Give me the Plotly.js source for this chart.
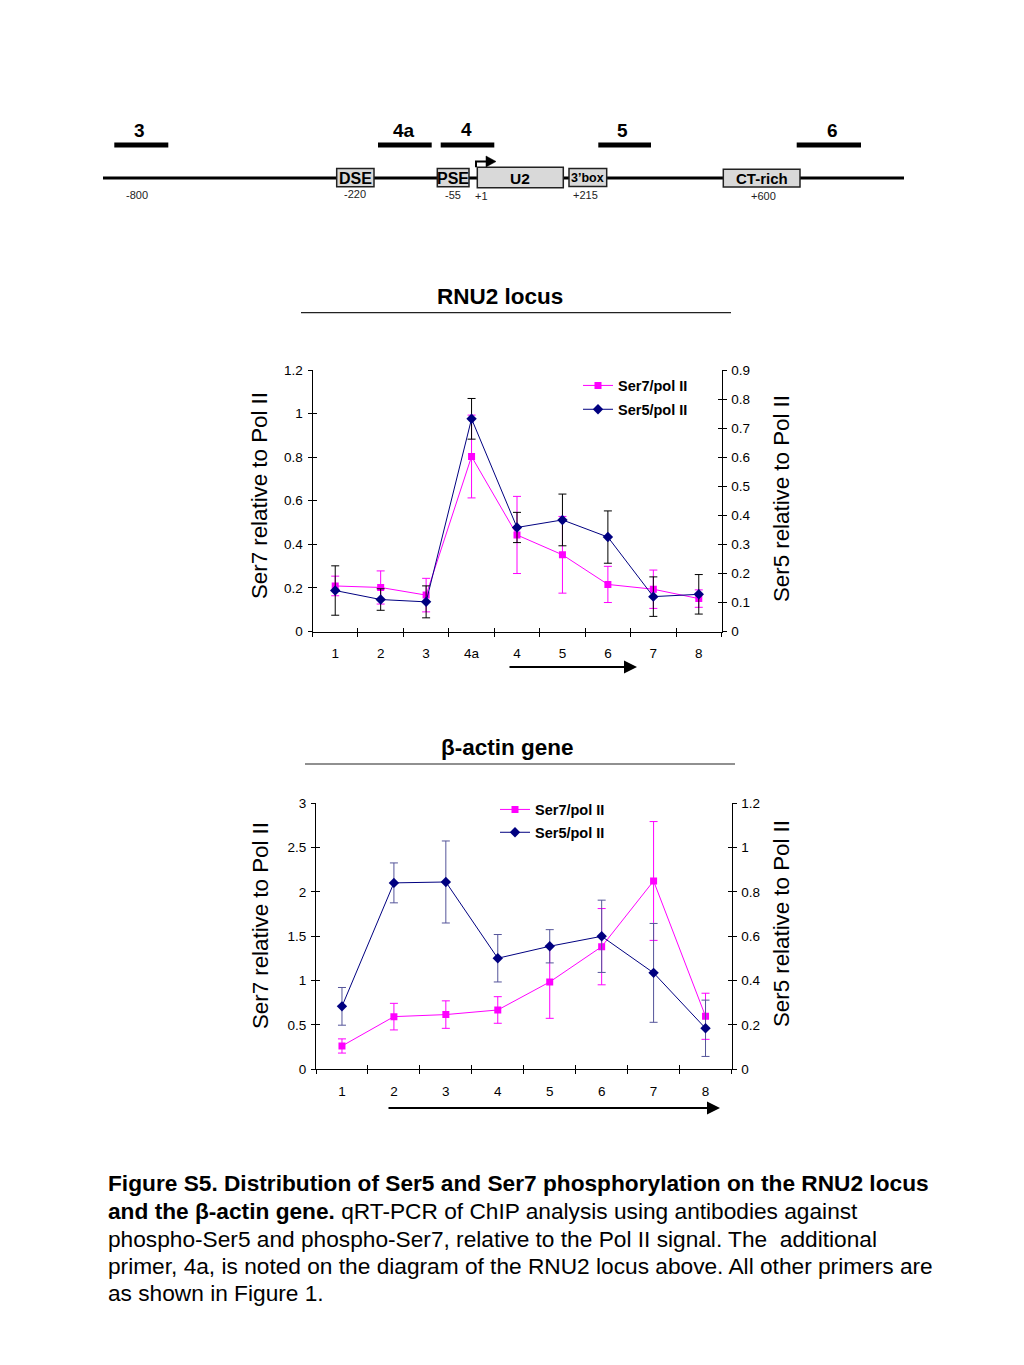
<!DOCTYPE html>
<html>
<head>
<meta charset="utf-8">
<script src="https://cdn.plot.ly/plotly-3.0.1.min.js"></script>
<style>html,body{margin:0;padding:0;background:#fff;}#chart{width:1024px;height:1365px;}</style>
</head>
<body>
<div id="chart"></div>
<script>
// ---------- DATA ----------
const rnuPrimers = ['1','2','3','4a','4','5','6','7','8'];
const rnuSer7 = [0.209,0.202,0.167,0.803,0.443,0.352,0.216,0.194,0.151];
const rnuSer7Err = [0.045,0.076,0.077,0.19,0.177,0.176,0.083,0.088,0.04];
const rnuSer5 = [0.141,0.110,0.102,0.732,0.358,0.384,0.325,0.120,0.128];
const rnuSer5Err = [0.085,0.037,0.055,0.07,0.052,0.089,0.09,0.068,0.068];

const actinPrimers = ['1','2','3','4','5','6','7','8'];
const actinSer7 = [0.263,0.594,0.617,0.669,0.985,1.383,2.124,0.598];
const actinSer7Err = [0.08,0.15,0.155,0.15,0.41,0.43,0.67,0.26];
const actinSer5 = [0.284,0.841,0.845,0.501,0.555,0.600,0.435,0.185];
const actinSer5Err = [0.085,0.09,0.185,0.107,0.075,0.163,0.223,0.127];

const seriesNames = ['Ser7/pol II','Ser5/pol II'];
const leftTitle = 'Ser7 relative to Pol II';
const rightTitle = 'Ser5 relative to Pol II';

// Gene diagram labels
const primerLabels = ['3','4a','4','5','6'];
const elementLabels = ['DSE','PSE','U2','3\u2019box','CT-rich'];
const positionLabels = ['-800','-220','-55','+1','+215','+600'];

const captionLines = [
  '<b>Figure S5. Distribution of Ser5 and Ser7 phosphorylation on the RNU2 locus</b>',
  '<b>and the \u03b2-actin gene.</b> qRT-PCR of ChIP analysis using antibodies against',
  'phospho-Ser5 and phospho-Ser7, relative to the Pol II signal. The  additional',
  'primer, 4a, is noted on the diagram of the RNU2 locus above. All other primers are',
  'as shown in Figure 1.'
];

// ---------- LAYOUT HELPERS ----------
const W = 1024, H = 1365;
const FONT = 'Liberation Sans, Arial, Helvetica, sans-serif';
const px = v => v / W;
const py = v => 1 - v / H;
const MAG = '#ff00ff', NAVY = '#000080';

const c1 = {x0:312.5, x1:721.5, yTop:370, yBot:631.5};
const c2 = {x0:316, x1:731.5, yTop:803.3, yBot:1069.3};
const TICKFONT = {family:FONT,size:13.5,color:'#000'};

function mainX(c, cats, anchor){
  return {domain:[px(c.x0),px(c.x1)], anchor:anchor, type:'category',
    categoryorder:'array', categoryarray:cats, range:[-0.5,cats.length-0.5],
    tickson:'boundaries', ticks:'outside', ticklen:4, tickcolor:'#000', tickwidth:1,
    showline:true, linecolor:'#000', linewidth:1, showgrid:false, zeroline:false,
    tickfont:TICKFONT, ticklabelstandoff:9, fixedrange:true};
}
function mainY(c, anchor, rng, dt, side, overlay){
  const a = {anchor:anchor, range:rng, dtick:dt, tick0:0, ticks:'outside', ticklen:4,
    tickcolor:'#000', tickwidth:1, showline:true, linecolor:'#000', linewidth:1,
    showgrid:false, zeroline:false, side:side, ticklabelstandoff:2,
    tickfont:TICKFONT, fixedrange:true};
  if (overlay) a.overlaying = overlay; else a.domain = [py(c.yBot), py(c.yTop)];
  return a;
}
function crossX(over, anchor, n){
  return {overlaying:over, anchor:anchor, range:[-0.5,n-0.5], tick0:-0.5, dtick:1,
    ticks:'inside', ticklen:4, tickcolor:'#000', showticklabels:false, showline:false,
    showgrid:false, zeroline:false, fixedrange:true};
}
function crossY(over, anchor, rng, dt, side){
  return {overlaying:over, anchor:anchor, range:rng, tick0:0, dtick:dt, side:side,
    ticks:'inside', ticklen:4, tickcolor:'#000', showticklabels:false, showline:false,
    showgrid:false, zeroline:false, fixedrange:true};
}

// ---------- TRACES ----------
function series(x, y, err, name, color, errColor, symbol, xa, ya, legend){
  return {type:'scatter', mode:'lines+markers', x:x, y:y, name:name,
    xaxis:xa, yaxis:ya, legend:legend, legendgroup:legend+name,
    line:{color:color, width:1}, marker:{color:color, symbol:symbol, size:symbol==='square'?7:8},
    error_y:{type:'data', array:err, visible:true, color:errColor, thickness:1, width:4},
    hoverinfo:'x+y'};
}
const dummy = (xa, ya) => ({type:'scatter', x:[null], y:[null], xaxis:xa, yaxis:ya,
  mode:'none', showlegend:false, hoverinfo:'skip'});

const traces = [
  series(rnuPrimers, rnuSer7, rnuSer7Err, seriesNames[0], MAG, MAG, 'square', 'x', 'y', 'legend'),
  series(rnuPrimers, rnuSer5, rnuSer5Err, seriesNames[1], NAVY, '#000', 'diamond', 'x', 'y2', 'legend'),
  series(actinPrimers, actinSer7, actinSer7Err, seriesNames[0], MAG, MAG, 'square', 'x2', 'y3', 'legend2'),
  series(actinPrimers, actinSer5, actinSer5Err, seriesNames[1], NAVY, '#55559a', 'diamond', 'x2', 'y4', 'legend2'),
  dummy('x4','y5'), dummy('x4','y6'), dummy('x5','y7'), dummy('x5','y8'), dummy('x3','y9')
];

// ---------- SHAPES & ANNOTATIONS (page coordinates via x3/y9) ----------
const shapes = [];
const ann = [];
const P = {xref:'x3', yref:'y9'};
function line(x0,y0,x1,y1,w,c){ shapes.push(Object.assign({type:'line',x0,y0,x1,y1,line:{color:c||'#000',width:w}},P)); }
function box(x0,y0,x1,y1){ shapes.push(Object.assign({type:'rect',x0,y0,x1,y1,fillcolor:'#d9d9d9',line:{color:'#222',width:1.5}},P)); }
function text(t,x,y,size,opts){
  ann.push(Object.assign({text:t,x:x,y:y,showarrow:false,xanchor:'center',yanchor:'middle',
    font:{family:FONT,size:size,color:'#000'}},P,opts||{}));
}

// main locus line
line(103,178,904,178,3);
// primer bars
const primerX = [[114.3,168.3],[378,431.7],[440.7,494.3],[598.3,651],[796.7,861]];
const primerLabelPos = [[139,130],[404,130],[466,129],[622,130],[832,130]];
primerX.forEach((p,i)=>{
  line(p[0],145,p[1],145,5);
  text(primerLabels[i], primerLabelPos[i][0], primerLabelPos[i][1], 19, {font:{family:FONT,size:19,color:'#000',weight:'bold'}});
});
// element boxes
const boxes = [[336.7,168.5,374,186.7],[437.3,168.5,469,186.7],[477.3,167.3,563.3,187.7],[569,168.5,606.7,186.5],[723.3,169.3,800,187]];
const boxFont = [16,16,15.5,12.5,15];
boxes.forEach((b,i)=>{
  box(b[0],b[1],b[2],b[3]);
  text(elementLabels[i], (b[0]+b[2])/2, (b[1]+b[3])/2+0.5, boxFont[i], {font:{family:FONT,size:boxFont[i],color:'#000',weight:'bold'}});
});
// TSS arrow
shapes.push(Object.assign({type:'path', path:'M 476 167.3 L 476 161.5 L 487 161.5', line:{color:'#000',width:2}},P));
shapes.push(Object.assign({type:'path', path:'M 486 156 L 496 161.5 L 486 167 Z', fillcolor:'#000', line:{color:'#000',width:0.5}},P));
// position labels
const posXY = [[136.7,195],[355,194],[453.3,194.5],[481,195.5],[585,195],[763.3,196]];
positionLabels.forEach((t,i)=> text(t, posXY[i][0], posXY[i][1], 11, {font:{family:FONT,size:11,color:'#222'}}));

// chart titles + underlines
text('<b>RNU2 locus</b>', 500, 296, 22.5);
line(301,312.7,731,312.7,1.2,'#222');
text('<b>\u03b2-actin gene</b>', 507, 747, 22.5);
line(305,764,735,764,1.2,'#222');

// axis titles
const titleFont = {family:FONT,size:22.3,color:'#000'};
text(leftTitle, 259, 496, 22.3, {textangle:-90, font:titleFont});
text(rightTitle, 781, 499, 22.3, {textangle:-90, font:titleFont});
text(leftTitle, 260, 926, 22.3, {textangle:-90, font:titleFont});
text(rightTitle, 781, 924, 22.3, {textangle:-90, font:titleFont});

// direction arrows
ann.push(Object.assign({x:637,y:667,ax:508,ay:667,axref:'x3',ayref:'y9',text:'',showarrow:true,
  arrowhead:2,arrowsize:1.3,arrowwidth:2,arrowcolor:'#000'},P));
ann.push(Object.assign({x:720,y:1108,ax:387,ay:1108,axref:'x3',ayref:'y9',text:'',showarrow:true,
  arrowhead:2,arrowsize:1.3,arrowwidth:2,arrowcolor:'#000'},P));

// caption
const capY = [1183,1211,1239,1266,1293];
captionLines.forEach((t,i)=> text(t, 106, capY[i], 22.7, {xanchor:'left', font:{family:FONT,size:22.7,color:'#000'}}));

// ---------- LAYOUT ----------
const legendCommon = {xanchor:'left', yanchor:'top', bgcolor:'rgba(0,0,0,0)', borderwidth:0,
  font:{family:FONT,size:14.5,color:'#000',weight:'bold'}, itemwidth:30, tracegroupgap:2};

const layout = {
  width:W, height:H, margin:{l:0,r:0,t:0,b:0}, paper_bgcolor:'#fff', plot_bgcolor:'rgba(0,0,0,0)',
  showlegend:true, hovermode:false,
  font:{family:FONT,color:'#000'},
  xaxis: mainX(c1, rnuPrimers, 'y'),
  yaxis: mainY(c1, 'x', [0,1.2], 0.2, 'left'),
  yaxis2: mainY(c1, 'x', [0,0.9], 0.1, 'right', 'y'),
  xaxis2: mainX(c2, actinPrimers, 'y3'),
  yaxis3: mainY(c2, 'x2', [0,3], 0.5, 'left'),
  yaxis4: mainY(c2, 'x2', [0,1.2], 0.2, 'right', 'y3'),
  xaxis4: crossX('x', 'y', rnuPrimers.length),
  yaxis5: crossY('y', 'x', [0,1.2], 0.2, 'left'),
  yaxis6: crossY('y', 'x', [0,0.9], 0.1, 'right'),
  xaxis5: crossX('x2', 'y3', actinPrimers.length),
  yaxis7: crossY('y3', 'x2', [0,3], 0.5, 'left'),
  yaxis8: crossY('y3', 'x2', [0,1.2], 0.2, 'right'),
  xaxis3: {domain:[0,1], range:[0,W], visible:false, anchor:'y9', fixedrange:true},
  yaxis9: {domain:[0,1], range:[H,0], visible:false, anchor:'x3', fixedrange:true},
  legend: Object.assign({x:px(578), y:py(369.5)}, legendCommon),
  legend2: Object.assign({x:px(495), y:py(793.5)}, legendCommon, {tracegroupgap:1}),
  shapes: shapes,
  annotations: ann
};

Plotly.newPlot('chart', traces, layout, {staticPlot:true, displayModeBar:false});
</script>
</body>
</html>
